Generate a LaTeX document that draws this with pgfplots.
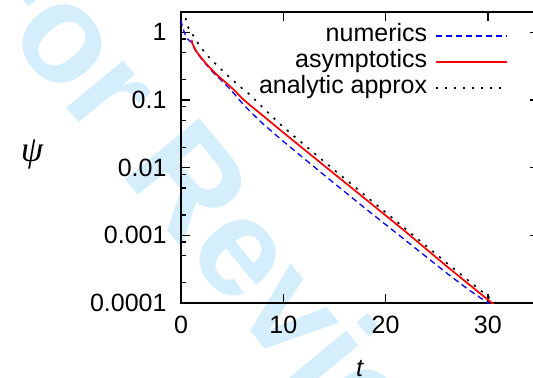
\documentclass[border=0pt]{standalone}
\usepackage{pgfplots}
\pgfplotsset{compat=1.18}
\usepackage{fontspec}
\setmainfont{Liberation Sans}
\newfontfamily\psifont{Liberation Serif}
\definecolor{wm}{RGB}{212,238,251}
\definecolor{nblue}{RGB}{0,0,255}
\definecolor{ared}{RGB}{255,0,0}
\newcommand{\bigfont}{\fontsize{25bp}{30bp}\selectfont}
\begin{document}
\begin{tikzpicture}[font=\bigfont]
\node[rotate=-50.5, text=wm, font=\fontsize{140bp}{140bp}\selectfont\bfseries, inner sep=0pt] at (47bp,78bp) {For Review};
\begin{axis}[
  at={(0bp,0bp)}, anchor=south west,
  scale only axis, width=358bp, height=291bp,
  xmin=0, xmax=35, ymode=log, ymin=1e-4, ymax=2,
  xtick={0,10,20,30}, xticklabels={0,10,20,30},
  ytick={1e-4,1e-3,1e-2,1e-1,1}, yticklabels={0.0001,0.001,0.01,0.1,1},
  minor ytick={2e-4,5e-4,8e-4,2e-3,5e-3,8e-3,0.02,0.05,0.08,0.2,0.5,0.8},
  tick align=inside, major tick length=9bp, minor tick length=5bp,
  axis line style={line width=1.3bp},
  every tick/.style={line width=1.3bp, black},
  tick label style={font=\bigfont},
  xticklabel style={yshift=-10bp},
  yticklabel style={xshift=-11bp},
  xlabel={\textit{t}}, ylabel={\psifont\itshape ψ},
  every axis x label/.style={at={(axis description cs:0.5,0)}, anchor=base, yshift=-73bp, font=\bigfont},
  every axis y label/.style={at={(axis description cs:0,0.509)}, anchor=center, xshift=-149bp, font=\fontsize{36bp}{36bp}\selectfont},
  legend style={draw=none, fill=none, at={(axis description cs:0.913,0.962)}, anchor=north east,
    inner sep=0pt, outer sep=0pt, column sep=6bp, font=\bigfont,
    nodes={inner ysep=0pt, text height=18bp, text depth=8bp}},
  legend cell align=right, legend plot pos=right,
  legend image code/.code={\draw[#1] (0bp,0bp) -- (71bp,0bp);},
]
\addplot[nblue, line width=1.3bp, dash pattern=on 6bp off 4bp] coordinates {
(0,1.53) (0.1,1.29) (0.23,1.10) (0.4,0.933) (0.56,0.820) (0.8,0.759) (1.04,0.708)
(1.25,0.603) (1.5,0.513) (2.0,0.407) (2.5,0.331) (3.0,0.269) (3.6,0.219)
(4.3,0.174) (5.1,0.129) (6.0,0.0891) (6.7,0.0692) (8.0,0.0447) (10,0.0245)
(14,0.00776) (18,0.00251) (22,8.32e-4) (26,2.75e-4) (28,1.62e-4) (30,1.0e-4) (30.5,8.7e-5)
};
\addlegendentry{numerics}
\addplot[ared, line width=1.7bp] coordinates {
(1.04,0.776) (1.1,0.692) (1.25,0.617) (1.5,0.525) (2.0,0.417) (2.5,0.339)
(3.0,0.282) (3.6,0.229) (4.3,0.186) (5.1,0.145) (6.0,0.105) (6.7,0.0851)
(8.0,0.0589) (10,0.0331) (14,0.0107) (18,0.00347) (22,0.00112) (26,3.47e-4)
(30.4,1e-4) (30.8,9e-5)
};
\addlegendentry{asymptotics}
\addplot[black, line width=1.6bp, dash pattern=on 2.2bp off 6.8bp] coordinates {
(0.3,2.2) (0.4,1.9) (0.56,1.29) (0.8,1.12) (1.04,0.977)
(1.4,0.80) (1.86,0.617) (2.6,0.45) (3.48,0.33) (4.5,0.235) (5.76,0.158)
(6.74,0.12) (8.0,0.0776) (10,0.0398) (14,0.0123) (18,0.00389) (22,0.00123)
(26,3.89e-4) (30.8,1e-4) (31.2,9e-5)
};
\addlegendentry{analytic approx}
\end{axis}
\pgfresetboundingbox
\useasboundingbox (-181bp,-75bp) rectangle (352bp,303bp);
\end{tikzpicture}
\end{document}
